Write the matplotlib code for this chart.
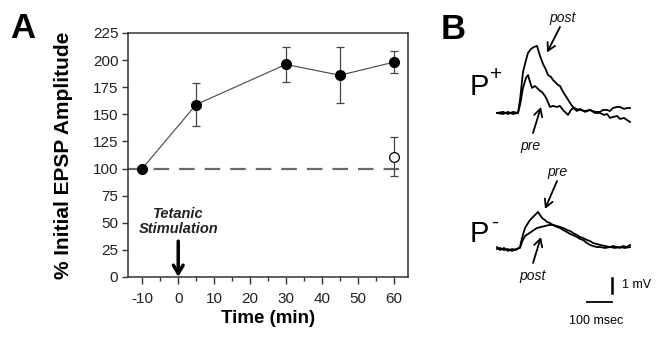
import numpy as np
import matplotlib
matplotlib.use("Agg")
import matplotlib.pyplot as plt

plt.rcParams['font.family'] = ['Liberation Sans', 'DejaVu Sans']
plt.rcParams['axes.unicode_minus'] = False

# Panel A data
time_min = [-10, 5, 30, 45, 60]
epsp_pct = [100, 159, 196, 186, 198]
epsp_err = [0, 20, 16, 26, 10]
ctrl_time = [60]
ctrl_pct = [111]
ctrl_err = [18]

# Panel B traces (ms, mV relative to baseline)
t_pp_pre = [0, 24, 44, 64, 84, 92, 104, 116, 124, 132, 140, 152, 160, 172, 180, 192, 200, 212,
            224, 240, 252, 264, 284, 296, 304, 320, 332, 352, 372, 392, 412, 428, 440, 452,
            464, 480, 492, 508, 520, 532]
v_pp_pre = [0, -0.07, 0.07, -0.07, 0, 0.53, 1.67, 2.33, 2.53, 2.07, 1.67, 1.8, 1.67, 1.47, 1.4,
            1.13, 0.87, 0.4, 0.47, 0.4, 0.47, 0.2, -0.13, 0.2, 0.33, 0.13, 0.27, 0.07, 0.2, 0,
            0, -0.13, -0.07, -0.33, -0.27, -0.2, -0.4, -0.33, -0.47, -0.6]
t_pp_post = [0, 24, 44, 64, 84, 92, 104, 116, 124, 136, 148, 160, 172, 184, 196, 204, 216, 224,
             236, 244, 252, 260, 272, 280, 292, 304, 316, 332, 352, 372, 392, 412, 424, 440,
             452, 464, 480, 492, 508, 520, 532]
v_pp_post = [0, 0.07, -0.07, 0.07, 0, 0.87, 2.73, 3.53, 4.0, 4.27, 4.4, 4.47, 3.8, 3.27, 2.87,
             2.53, 2.4, 2.2, 2.0, 1.87, 1.8, 1.53, 1.2, 1.0, 0.67, 0.4, 0.27, 0.2, 0.13, 0.2,
             0.07, 0.07, 0.2, 0.2, 0.13, 0.33, 0.4, 0.4, 0.27, 0.33, 0.33]
t_pm_pre = [0, 12, 28, 44, 60, 76, 92, 100, 112, 124, 132, 144, 152, 164, 172, 180, 192, 200,
            212, 224, 240, 252, 264, 280, 292, 304, 320, 332, 344, 360, 372, 384, 400, 412,
            432, 452, 464, 480, 492, 504, 520, 532]
v_pm_pre = [0.13, -0.07, 0.07, -0.13, 0, -0.07, 0.13, 0.73, 1.4, 1.73, 1.93, 2.13, 2.27, 2.47,
            2.27, 2.07, 1.93, 1.8, 1.73, 1.6, 1.53, 1.47, 1.4, 1.27, 1.2, 1.07, 0.93, 0.8,
            0.73, 0.6, 0.53, 0.4, 0.33, 0.27, 0.2, 0.13, 0.2, 0.13, 0.07, 0.2, 0.13, 0.27]
t_pm_post = [0, 12, 28, 44, 60, 76, 92, 100, 112, 124, 136, 148, 160, 176, 192, 208, 224, 240,
             252, 264, 280, 292, 304, 320, 332, 344, 360, 372, 384, 400, 412, 432, 452, 472,
             492, 512, 532]
v_pm_post = [0, 0.07, -0.07, 0, -0.13, 0, 0.07, 0.47, 0.87, 1.0, 1.13, 1.27, 1.4, 1.47, 1.53,
             1.6, 1.6, 1.47, 1.4, 1.27, 1.13, 1.0, 0.93, 0.8, 0.67, 0.6, 0.4, 0.27, 0.2, 0.13,
             0.13, 0.07, 0.13, 0.07, 0.13, 0.07, 0.13]

fig = plt.figure(figsize=(6.58, 3.39), dpi=100)

# ---- Panel A ----
ax = fig.add_axes([0.1945, 0.183, 0.4255, 0.7198])
ax.axhline(100, color='#6a6a6a', lw=1.6, dashes=(7, 4.5), zorder=1)
ax.plot(time_min, epsp_pct, color='#444444', lw=0.8, zorder=2)
ax.errorbar(time_min, epsp_pct, yerr=epsp_err, fmt='o', color='black', ms=7,
            ecolor='#444444', elinewidth=0.9, capsize=3, capthick=0.9, zorder=3)
ax.errorbar(ctrl_time, ctrl_pct, yerr=ctrl_err, fmt='o', mfc='white', mec='black', ms=7,
            mew=0.9, ecolor='#444444', elinewidth=0.9, capsize=3, capthick=0.9, zorder=3)

ax.set_xlim(-14, 64)
ax.set_ylim(0, 225)
ax.set_xticks(range(-10, 61, 10))
ax.set_xticks(range(-5, 61, 10), minor=True)
ax.set_yticks(range(0, 226, 25))
ax.tick_params(which='major', direction='out', length=4, width=1, color='#333333',
               labelsize=11, labelcolor='#222222', pad=3)
ax.tick_params(axis='x', which='major', length=5, pad=6)
ax.tick_params(which='minor', direction='out', length=3, width=1, color='#333333')
for s in ax.spines.values():
    s.set_linewidth(1.1)
    s.set_color('#333333')
ax.set_xlabel('Time (min)', fontsize=13.5, fontweight='bold', labelpad=3)
ax.set_ylabel('% Initial EPSP Amplitude', fontsize=15, fontweight='bold', labelpad=14)

ax.text(0, 51, 'Tetanic\nStimulation', ha='center', va='center', fontsize=10.5,
        fontweight='bold', fontstyle='italic', color='#222222', linespacing=1.15)
ax.annotate('', xy=(0, 0), xytext=(0, 33),
            arrowprops=dict(arrowstyle='->,head_length=0.6,head_width=0.35', lw=2.5,
                            color='black', shrinkA=0, shrinkB=0))

fig.text(0.034, 0.915, 'A', fontsize=25, fontweight='bold', ha='center', va='center')
fig.text(0.688, 0.912, 'B', fontsize=25, fontweight='bold', ha='center', va='center')

# ---- Panel B ----
bx = fig.add_axes([460 / 658, 0, 198 / 658, 1])
bx.set_xlim(-148, 644)
bx.set_ylim(0, 339 / 15)
bx.axis('off')

off_p = 15.07
off_m = 6.0
bx.plot(t_pp_pre, np.array(v_pp_pre) + off_p, color='black', lw=1.3)
bx.plot(t_pp_post, np.array(v_pp_post) + off_p, color='black', lw=1.3)
bx.plot(t_pm_pre, np.array(v_pm_pre) + off_m, color='black', lw=1.3)
bx.plot(t_pm_post, np.array(v_pm_post) + off_m, color='black', lw=1.3)

fig.text(470 / 658, 1 - 95 / 339, 'P', fontsize=21, ha='left', va='baseline')
fig.text(490 / 658, 1 - 80 / 339, '+', fontsize=15, ha='left', va='baseline')
fig.text(470 / 658, 1 - 242 / 339, 'P', fontsize=21, ha='left', va='baseline')
fig.text(491 / 658, 1 - 228 / 339, '-', fontsize=15, ha='left', va='baseline')

arr = dict(arrowstyle='->,head_length=0.55,head_width=0.3', lw=1.3, color='black',
           shrinkA=0, shrinkB=0)
lab = dict(fontsize=10, fontstyle='italic', ha='center', va='center', color='#111111')
bx.text(264, 21.4, 'post', **lab)
bx.annotate('', xy=(200, 19.1), xytext=(252, 20.8), arrowprops=arr)
bx.text(132, 12.87, 'pre', **lab)
bx.annotate('', xy=(176, 15.47), xytext=(144, 13.73), arrowprops=arr)
bx.text(240, 11.13, 'pre', **lab)
bx.annotate('', xy=(192, 8.67), xytext=(240, 10.53), arrowprops=arr)
bx.text(144, 4.2, 'post', **lab)
bx.annotate('', xy=(176, 6.8), xytext=(144, 5.07), arrowprops=arr)

# scale bars: 100 ms, 1 mV
bx.plot([360, 460], [2.47, 2.47], color='black', lw=1.3)
bx.plot([460, 460], [3.07, 4.07], color='black', lw=1.8)
bx.text(500, 3.6, '1 mV', fontsize=9, ha='left', va='center')
bx.text(395, 1.2, '100 msec', fontsize=9, ha='center', va='center')

fig.savefig('out.png', dpi=100)
